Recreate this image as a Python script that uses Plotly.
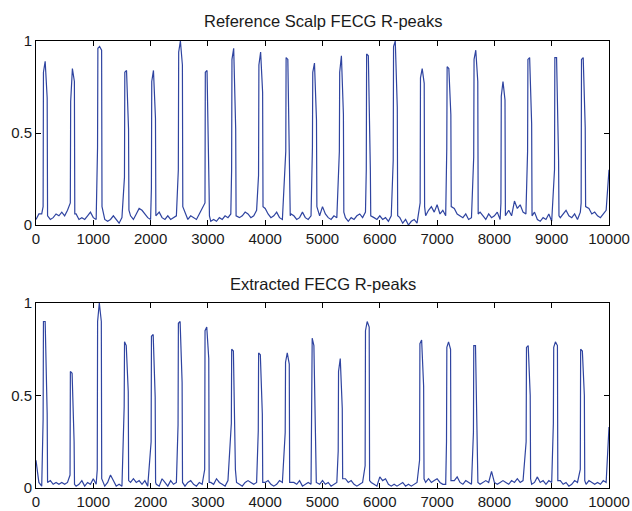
import plotly.graph_objects as go

# ---------------- data ----------------
base_step = 50  # baseline sampled every 50 samples from 0 to 10000

top_baseline = [
    0.03, 0.06, 0.06, 0.05, 0.05, 0.03, 0.04, 0.06, 0.05, 0.07,
    0.05, 0.08, 0.07, 0.06, 0.06, 0.03, 0.04, 0.03, 0.05, 0.07,
    0.04, 0.03, 0.05, 0.04, 0.03, 0.02, 0.03, 0.05, 0.03, 0.01,
    0.04, 0.05, 0.06, 0.05, 0.03, 0.06, 0.09, 0.08, 0.06, 0.04,
    0.03, 0.05, 0.06, 0.07, 0.04, 0.03, 0.05, 0.03, 0.04, 0.05,
    0.08, 0.06, 0.07, 0.03, 0.05, 0.04, 0.03, 0.06, 0.09, 0.12,
    0.05, 0.02, 0.03, 0.02, 0.04, 0.03, 0.05, 0.04, 0.06, 0.07,
    0.06, 0.04, 0.05, 0.07, 0.06, 0.04, 0.05, 0.08, 0.10, 0.09,
    0.09, 0.06, 0.04, 0.05, 0.07, 0.04, 0.03, 0.05, 0.04, 0.06,
    0.05, 0.03, 0.04, 0.07, 0.04, 0.03, 0.05, 0.06, 0.08, 0.05,
    0.10, 0.06, 0.04, 0.03, 0.05, 0.04, 0.03, 0.05, 0.04, 0.02,
    0.04, 0.03, 0.05, 0.06, 0.04, 0.07, 0.06, 0.08, 0.04, 0.03,
    0.05, 0.03, 0.04, 0.02, 0.05, 0.07, 0.06, 0.04, 0.01, 0.03,
    0.00, 0.02, 0.03, 0.01, 0.02, 0.04, 0.05, 0.08, 0.10, 0.07,
    0.11, 0.06, 0.08, 0.05, 0.07, 0.05, 0.09, 0.06, 0.05, 0.04,
    0.06, 0.03, 0.04, 0.05, 0.06, 0.07, 0.05, 0.03, 0.06, 0.04,
    0.05, 0.07, 0.03, 0.05, 0.04, 0.08, 0.05, 0.13, 0.09, 0.11,
    0.07, 0.06, 0.05, 0.06, 0.07, 0.03, 0.02, 0.04, 0.03, 0.06,
    0.02, 0.05, 0.06, 0.04, 0.06, 0.08, 0.05, 0.04, 0.06, 0.03,
    0.07, 0.05, 0.06, 0.09, 0.06, 0.07, 0.05, 0.04, 0.06, 0.08,
    0.30,
]

bottom_baseline = [
    0.15, 0.03, 0.01, 0.02, 0.02, 0.04, 0.02, 0.03, 0.02, 0.03,
    0.02, 0.03, 0.04, 0.02, 0.01, 0.02, 0.04, 0.01, 0.03, 0.02,
    0.05, 0.02, 0.03, 0.02, 0.01, 0.03, 0.07, 0.04, 0.01, 0.02,
    0.01, 0.03, 0.02, 0.03, 0.05, 0.03, 0.04, 0.02, 0.04, 0.01,
    0.02, 0.01, 0.02, 0.01, 0.05, 0.03, 0.01, 0.04, 0.02, 0.03,
    0.04, 0.02, 0.01, 0.03, 0.04, 0.02, 0.01, 0.03, 0.02, 0.01,
    0.02, 0.03, 0.02, 0.05, 0.03, 0.02, 0.01, 0.04, 0.01, 0.02,
    0.03, 0.02, 0.01, 0.03, 0.04, 0.03, 0.02, 0.03, 0.04, 0.02,
    0.03, 0.04, 0.02, 0.01, 0.02, 0.04, 0.03, 0.02, 0.01, 0.03,
    0.03, 0.02, 0.04, 0.01, 0.02, 0.03, 0.02, 0.03, 0.01, 0.02,
    0.04, 0.02, 0.03, 0.01, 0.02, 0.03, 0.01, 0.04, 0.05, 0.03,
    0.04, 0.02, 0.01, 0.02, 0.03, 0.01, 0.02, 0.03, 0.02, 0.01,
    0.06, 0.04, 0.05, 0.02, 0.01, 0.02, 0.01, 0.02, 0.03, 0.01,
    0.02, 0.01, 0.02, 0.03, 0.02, 0.02, 0.03, 0.05, 0.03, 0.04,
    0.05, 0.03, 0.02, 0.02, 0.04, 0.02, 0.04, 0.06, 0.03, 0.02,
    0.04, 0.03, 0.02, 0.02, 0.03, 0.02, 0.03, 0.04, 0.03, 0.09,
    0.03, 0.02, 0.03, 0.04, 0.03, 0.02, 0.04, 0.03, 0.05, 0.03,
    0.04, 0.03, 0.05, 0.02, 0.03, 0.06, 0.03, 0.04, 0.02, 0.04,
    0.03, 0.02, 0.03, 0.04, 0.02, 0.03, 0.01, 0.02, 0.04, 0.03,
    0.02, 0.01, 0.02, 0.04, 0.03, 0.02, 0.03, 0.02, 0.04, 0.03,
    0.33,
]

# R-peak locations (samples) and the samples around each peak
top_peak_pos = [170, 645, 1120, 1590, 2060, 2530, 2995, 3460, 3930, 4405,
                4870, 5340, 5810, 6280, 6750, 7215, 7685, 8160, 8625, 9095, 9560]
top_peak_vals = [
    [0.10, 0.83, 0.89, 0.69, 0.05],
    [0.12, 0.67, 0.85, 0.78, 0.06],
    [0.42, 0.96, 0.97, 0.95, 0.10],
    [0.26, 0.83, 0.84, 0.52, 0.08],
    [0.20, 0.78, 0.84, 0.58, 0.05],
    [0.30, 0.94, 1.00, 0.87, 0.10],
    [0.12, 0.83, 0.84, 0.20, 0.05],
    [0.30, 0.90, 0.96, 0.52, 0.05],
    [0.27, 0.87, 0.94, 0.72, 0.10],
    [0.40, 0.91, 0.90, 0.20, 0.05],
    [0.42, 0.83, 0.88, 0.57, 0.10],
    [0.40, 0.83, 0.92, 0.60, 0.07],
    [0.30, 0.93, 0.92, 0.30, 0.05],
    [0.35, 0.97, 1.00, 0.64, 0.05],
    [0.12, 0.80, 0.85, 0.77, 0.10],
    [0.42, 0.86, 0.85, 0.60, 0.10],
    [0.37, 0.90, 0.95, 0.78, 0.06],
    [0.12, 0.70, 0.78, 0.68, 0.05],
    [0.40, 0.90, 0.91, 0.55, 0.05],
    [0.30, 0.91, 0.91, 0.35, 0.05],
    [0.12, 0.90, 0.91, 0.53, 0.10],
]

bottom_peak_pos = [170, 640, 1115, 1585, 2055, 2525, 2990, 3455, 3925, 4395,
                   4860, 5320, 5790, 6740, 7210, 7680, 8600, 9075, 9545]
bottom_peak_vals = [
    [0.37, 0.90, 0.90, 0.40, 0.03],
    [0.07, 0.63, 0.62, 0.25, 0.02],
    [0.10, 0.90, 1.00, 0.90, 0.05],
    [0.44, 0.79, 0.77, 0.52, 0.04],
    [0.25, 0.82, 0.83, 0.49, 0.03],
    [0.34, 0.89, 0.90, 0.57, 0.03],
    [0.10, 0.85, 0.87, 0.70, 0.03],
    [0.35, 0.75, 0.74, 0.10, 0.03],
    [0.31, 0.73, 0.72, 0.40, 0.03],
    [0.30, 0.68, 0.73, 0.67, 0.03],
    [0.40, 0.81, 0.77, 0.10, 0.03],
    [0.20, 0.63, 0.70, 0.43, 0.05],
    [0.12, 0.85, 0.90, 0.87, 0.04],
    [0.15, 0.78, 0.80, 0.55, 0.05],
    [0.25, 0.76, 0.79, 0.75, 0.04],
    [0.30, 0.77, 0.77, 0.10, 0.03],
    [0.25, 0.76, 0.77, 0.50, 0.05],
    [0.35, 0.76, 0.79, 0.77, 0.04],
    [0.10, 0.75, 0.74, 0.50, 0.04],
]
peak_offsets = [-46, -40, -10, 25, 32]

top_title = "Reference Scalp FECG R-peaks"
bottom_title = "Extracted FECG R-peaks"
x_ticks = [0, 1000, 2000, 3000, 4000, 5000, 6000, 7000, 8000, 9000, 10000]
y_ticks = [0, 0.5, 1]
y_tick_text = ["0", "0.5", "1"]


def build_series(baseline, peak_pos, peak_vals):
    pts = []
    for i, v in enumerate(baseline):
        x = i * base_step
        if all(-55 > x - p or x - p > 40 for p in peak_pos):
            pts.append((x, v))
    for p, vals in zip(peak_pos, peak_vals):
        for o, v in zip(peak_offsets, vals):
            pts.append((p + o, v))
    pts.sort()
    return [a for a, _ in pts], [b for _, b in pts]


tx, ty = build_series(top_baseline, top_peak_pos, top_peak_vals)
bx, by = build_series(bottom_baseline, bottom_peak_pos, bottom_peak_vals)

W, H = 632, 511
LINE = "#2f44a0"
FONT = "Arial, Liberation Sans, sans-serif"

fig = go.Figure()
fig.add_trace(go.Scatter(x=tx, y=ty, mode="lines", line=dict(color=LINE, width=1.2),
                         xaxis="x", yaxis="y", showlegend=False, hoverinfo="skip"))
fig.add_trace(go.Scatter(x=bx, y=by, mode="lines", line=dict(color=LINE, width=1.2),
                         xaxis="x2", yaxis="y2", showlegend=False, hoverinfo="skip"))

x_dom = [36 / W, 609 / W]
top_dom = [(H - 225) / H, (H - 41) / H]
bot_dom = [(H - 488) / H, (H - 303) / H]

axis_common = dict(showline=True, linecolor="black", linewidth=1, mirror="ticks",
                   ticks="inside", ticklen=5, tickcolor="black", tickwidth=1,
                   showgrid=False, zeroline=False, automargin=False,
                   tickfont=dict(family=FONT, size=15, color="#1a1a1a"))

xa = dict(axis_common, range=[0, 10000], tickvals=x_ticks,
          ticktext=[str(t) for t in x_ticks], domain=x_dom)
ya = dict(axis_common, range=[0, 1], tickvals=y_ticks, ticktext=y_tick_text)

fig.update_layout(
    width=W, height=H,
    margin=dict(l=0, r=0, t=0, b=0),
    paper_bgcolor="white", plot_bgcolor="white",
    xaxis=dict(xa, anchor="y"),
    yaxis=dict(ya, domain=top_dom, anchor="x"),
    xaxis2=dict(xa, anchor="y2"),
    yaxis2=dict(ya, domain=bot_dom, anchor="x2"),
    annotations=[
        dict(text=top_title, x=322.5 / W, y=(H - 21) / H, xref="paper", yref="paper",
             showarrow=False, xanchor="center", yanchor="middle",
             font=dict(family=FONT, size=16.5, color="#1a1a1a")),
        dict(text=bottom_title, x=322.5 / W, y=(H - 284) / H, xref="paper", yref="paper",
             showarrow=False, xanchor="center", yanchor="middle",
             font=dict(family=FONT, size=16.5, color="#1a1a1a")),
    ],
)

fig.write_html("out.html")
